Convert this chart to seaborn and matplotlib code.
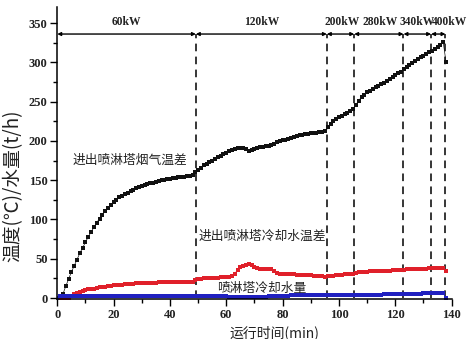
import numpy as np
import pandas as pd
import matplotlib
matplotlib.use("Agg")
import matplotlib.pyplot as plt
import seaborn as sns
from matplotlib.ticker import MultipleLocator

# ---------------- data ----------------
time_min = list(range(0, 139))

flue_gas_diff = [
    0, 0, 5, 15, 24, 33, 41, 49, 57, 64,
    71, 78, 84, 90, 96, 101, 106, 111, 115, 119,
    122, 125, 128, 130, 132, 134, 136, 138, 140, 141,
    143, 144, 145, 146, 147, 148, 149, 150, 150.5, 151,
    152, 152.5, 153, 153.5, 154, 154.5, 155, 155.5, 156, 160,
    163, 166, 169, 171, 173, 175, 177, 179, 181, 183,
    185, 187, 188.5, 190, 191, 191.5, 191, 189.5, 187.5, 189,
    190, 191, 192, 192.5, 193, 194, 195, 196, 198, 199.5,
    200.5, 201.5, 202.5, 203.5, 204.5, 206, 207, 208, 208.5, 209,
    209.5, 210, 210.5, 211, 211.5, 212, 218, 222, 225, 228,
    230, 232, 234, 236, 238, 241, 246, 251, 256, 259,
    262, 264, 266, 268, 270, 272, 274, 276.5, 279, 281,
    283.5, 286, 288, 291, 294, 297, 299.5, 302, 304, 306.5,
    308.5, 310.5, 312.5, 314.5, 317, 319.5, 322, 326, 300,
]

cooling_water_diff = [
    0, 0, 0, 0, 0, 3, 5, 6.5, 8, 9,
    10, 11, 11.5, 12, 13, 13.5, 14, 14.5, 15, 15.5,
    16, 16.5, 17, 17, 17.5, 17.5, 18, 18, 18.5, 18.5,
    19, 19, 19, 19.5, 19.5, 19.5, 20, 20, 20, 20,
    20, 20.5, 20.5, 20.5, 20.5, 21, 21, 21, 21, 23,
    24, 24.5, 25, 25, 25.5, 25.5, 26, 26, 26.5, 26.5,
    27, 27, 27.5, 31, 36, 39, 41, 42.5, 43, 42,
    40, 38.5, 37.5, 37, 37, 37.5, 37.5, 35, 32, 31,
    30.5, 30.5, 30, 30, 30, 29.5, 29.5, 29.5, 29, 29,
    29, 28.5, 28, 28, 27.5, 27, 27.5, 28, 28.5, 29,
    29, 29.5, 30, 30, 30, 30.5, 31.5, 32.5, 33, 33.5,
    33.5, 34, 34, 34, 34.5, 34.5, 35, 35, 35, 35.5,
    35.5, 35.5, 36, 36, 36.5, 36.5, 37, 37, 37, 37.5,
    37.5, 37.5, 38, 38, 38, 38.5, 38.5, 38, 35,
]

cooling_water_flow = [
    0, 2, 2.5, 2.5, 2.5, 2.5, 2.5, 2.5, 2.5, 2.5,
    2.5, 2.5, 2.5, 2.5, 2.5, 2.5, 2.5, 2.5, 2.5, 2.5,
    2.5, 2.5, 2.5, 2.5, 2.5, 2.5, 2.5, 2.5, 2.5, 2.5,
    2.5, 2.5, 2.5, 2.5, 2.5, 2.5, 2.5, 2.5, 2.5, 2.5,
    2.5, 2.5, 2.5, 2.5, 2.5, 2.5, 2.5, 2.5, 2.5, 3,
    3, 3, 3, 3, 3, 3, 3, 3, 2.5, 2,
    2, 1.5, 1, 1, 1, 1, 1, 1, 1, 1,
    1, 1, 1, 1, 1.5, 2, 2, 2.5, 2.5, 3,
    3, 3, 3, 3.5, 3.5, 4, 4, 4, 4, 4,
    4, 4, 4, 4, 4, 4, 4, 4, 4, 4,
    4, 4, 4, 4, 4, 4, 4, 4, 4, 4,
    4, 4, 4, 4, 4, 4, 4.5, 5, 5, 5,
    5, 5, 5, 5, 5, 5, 5, 5, 5, 5.5,
    6, 6, 6, 6, 6, 6, 6, 6, 0,
]

stage_bounds = [0, 49.2, 95.7, 105.4, 122.9, 132.7, 137.8]
stage_labels = ["60kW", "120kW", "200kW", "280kW", "340kW", "400kW"]
stage_label_x = [24.6, 72.6, 101.0, 114.6, 127.7, 139.2]

series_names = ["进出喷淋塔烟气温差", "进出喷淋塔冷却水温差", "喷淋塔冷却水量"]

# ---------------- figure ----------------
sns.set_theme(style="ticks")
plt.rcParams["font.family"] = ["Noto Sans CJK SC", "DejaVu Sans"]
plt.rcParams["axes.unicode_minus"] = False

fig = plt.figure(figsize=(4.68, 3.39), dpi=100)
ax = fig.add_axes([0.1224, 0.1174, 0.8427, 0.861])

df = pd.DataFrame({
    "t": time_min * 3,
    "v": flue_gas_diff + cooling_water_diff + cooling_water_flow,
    "s": [series_names[0]] * len(time_min) + [series_names[1]] * len(time_min)
         + [series_names[2]] * len(time_min),
})

palette = {series_names[0]: "#111111", series_names[1]: "#e0202a", series_names[2]: "#2020c0"}
sns.lineplot(data=df, x="t", y="v", hue="s", palette=palette, marker="s",
             markersize=2.6, markeredgewidth=0, linewidth=0.5,
             legend=False, ax=ax, estimator=None, sort=False)

# stage boundaries
for xb in stage_bounds[1:]:
    ax.plot([xb, xb], [0, 336], color="black", linestyle=(0, (5, 3.5)), linewidth=1.1, zorder=1)

# double arrows
for a, b in zip(stage_bounds[:-1], stage_bounds[1:]):
    ax.annotate("", xy=(a, 336), xytext=(b, 336),
                arrowprops=dict(arrowstyle="<|-|>", color="black", lw=1.0,
                                mutation_scale=5, shrinkA=0, shrinkB=0))

for lab, lx in zip(stage_labels, stage_label_x):
    ax.text(lx, 351, lab, ha="center", va="center", fontsize=8.3,
            family="Liberation Serif", fontweight="bold", color="#222222")

# series annotations
ax.text(25.8, 175, series_names[0], ha="center", va="center", fontsize=9.2, color="#222222")
ax.text(72.7, 78, series_names[1], ha="center", va="center", fontsize=9.2, color="#222222")
ax.text(72.7, 12, series_names[2], ha="center", va="center", fontsize=9.2, color="#222222")

ax.set_xlim(0, 140)
ax.set_ylim(-1.5, 370)
ax.xaxis.set_major_locator(MultipleLocator(20))
ax.xaxis.set_minor_locator(MultipleLocator(10))
ax.yaxis.set_major_locator(MultipleLocator(50))
ax.yaxis.set_minor_locator(MultipleLocator(25))
ax.set_yticks([0, 50, 100, 150, 200, 250, 300, 350])

ax.tick_params(which="major", direction="out", length=5, width=1.0, color="black",
               labelsize=9, pad=2)
ax.tick_params(which="minor", direction="out", length=3, width=1.0, color="black")
for lab in ax.get_xticklabels() + ax.get_yticklabels():
    lab.set_family("Liberation Serif")
    lab.set_fontweight("bold")
    lab.set_color("#222222")

for s in ["top", "right"]:
    ax.spines[s].set_visible(False)
for s in ["left", "bottom"]:
    ax.spines[s].set_color("black")
    ax.spines[s].set_linewidth(1.1)

ax.set_xlabel("运行时间(min)", fontsize=10, color="#222222")
ax.set_ylabel("温度(℃)/水量(t/h)", fontsize=13.5, color="#222222")
ax.xaxis.set_label_coords(0.55, -0.09)
ax.yaxis.set_label_coords(-0.085, 0.39)

fig.savefig("out.png", dpi=100)
